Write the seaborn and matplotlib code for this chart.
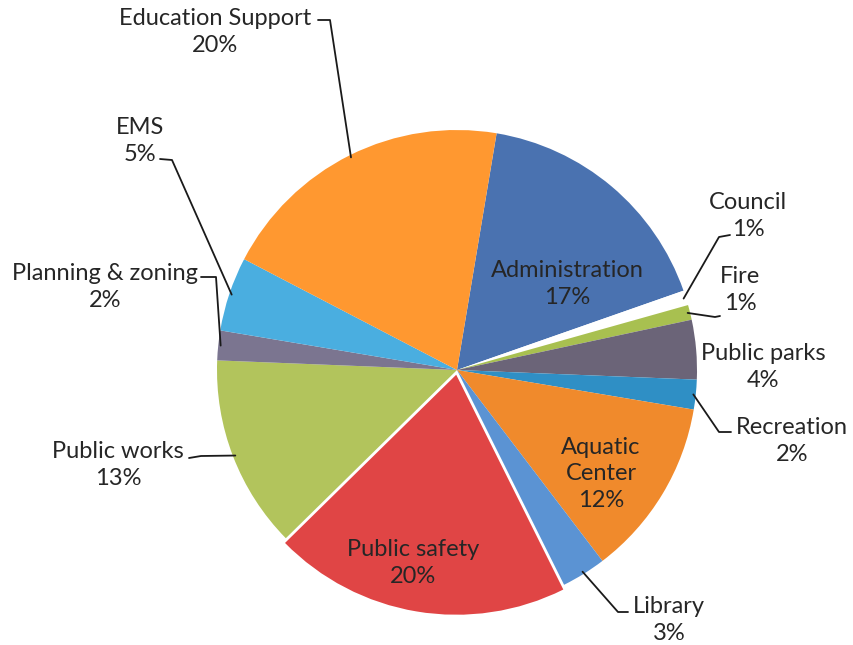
import matplotlib
matplotlib.use("Agg")
import matplotlib.pyplot as plt
import seaborn as sns
import numpy as np

categories = ["Administration", "Council", "Fire", "Public parks", "Recreation",
              "Aquatic Center", "Library", "Public safety", "Public works",
              "Planning & zoning", "EMS", "Education Support"]
shares = [17, 1, 1, 4, 2, 12, 3, 20, 13, 2, 5, 20]
colors = ["#4A72B0", "#FFFFFF", "#A8C050", "#6B6478", "#2F8FC5", "#F08A2C",
          "#5B93D3", "#E04545", "#B2C45C", "#7B7590", "#4AAEE0", "#FF9830"]
display_names = ["Administration", "Council", "Fire", "Public parks", "Recreation",
                 "Aquatic\nCenter", "Library", "Public safety", "Public works",
                 "Planning & zoning", "EMS", "Education Support"]

sns.set_theme(style="white")
plt.rcParams["font.family"] = ["Lato", "DejaVu Sans"]

W, H = 854, 645
CX, CY, R = 457, 370, 240

fig = plt.figure(figsize=(W / 100, H / 100), dpi=100)
ax = fig.add_axes([0, 0, 1, 1])


def px(x, y):
    return ((x - CX) / R, (CY - y) / R)


explode = [0.02 if c == "Public safety" else 0 for c in categories]
wedges, _ = ax.pie(shares, colors=colors, startangle=80.5, counterclock=False,
                   radius=1, explode=explode,
                   wedgeprops=dict(linewidth=0))

x0, y0 = px(0, H)
x1, y1 = px(W, 0)
ax.set_xlim(x0, x1)
ax.set_ylim(y0, y1)
ax.set_aspect("auto")
ax.axis("off")

txt_color = "#262626"
fs = 17
ls = 1.35

# inside labels: (text centre)
inside = {"Administration": (567, 284), "Aquatic Center": (601, 474),
          "Public safety": (413, 563)}
# outside labels: text centre, elbow start, elbow end
outside = {
    "Education Support": ((215, 32), (318, 20), (330, 20)),
    "EMS": ((140, 141), (160, 159), (172, 160)),
    "Planning & zoning": ((105, 287), (201, 277), (216, 277)),
    "Public works": ((118, 465), (189, 458), (201, 456)),
    "Council": ((748, 216), (730, 235), (719, 237)),
    "Fire": ((740, 290), (720, 316), (715, 317)),
    "Public parks": ((763, 367), (None, None), (None, None)),
    "Recreation": ((792, 441), (731, 432), (719, 432)),
    "Library": ((669, 620), (628, 612), (618, 612)),
}

for w, cat, name, s in zip(wedges, categories, display_names, shares):
    label = f"{name}\n{s}%"
    if cat in inside:
        tx, ty = px(*inside[cat])
        ax.text(tx, ty, label, ha="center", va="center", fontsize=fs,
                color=txt_color, linespacing=ls)
    else:
        (tpos, e1, e2) = outside[cat]
        tx, ty = px(*tpos)
        ax.text(tx, ty, label, ha="center", va="center", fontsize=fs,
                color=txt_color, linespacing=ls)
        if e1[0] is not None:
            mid = np.deg2rad((w.theta1 + w.theta2) / 2)
            ex, ey = np.cos(mid) * 0.99, np.sin(mid) * 0.99
            a = px(*e1)
            b = px(*e2)
            ax.plot([a[0], b[0], ex], [a[1], b[1], ey], color="#1a1a1a", lw=1.3)

fig.savefig("out.png", dpi=100)
